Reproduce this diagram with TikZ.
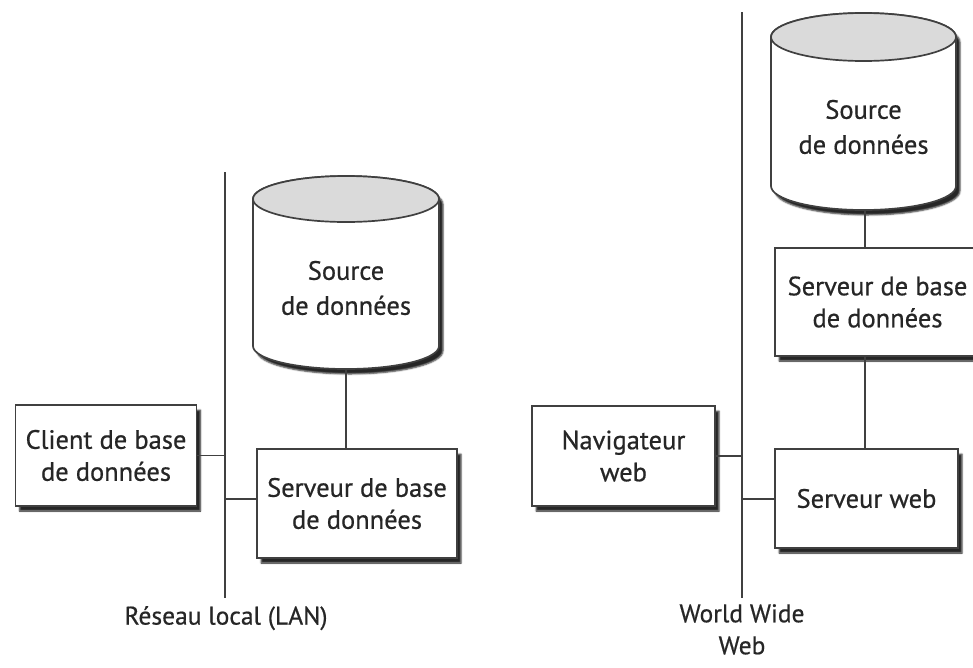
\documentclass[tikz,border=0pt]{standalone}
\usepackage{fontspec}
\setmainfont{PT Sans}[FakeBold=0.6]
\newfontfamily\dfont{PT Sans}[FakeBold=0.6,AutoFakeBold=0.6]
\usetikzlibrary{shadows.blur}
\definecolor{ln}{HTML}{404040}
\definecolor{tx}{HTML}{262626}
\definecolor{capfill}{HTML}{DADADA}
\tikzset{
  x=1pt,y=1pt,
  conn/.style={draw=ln,line width=1.7pt},
  boxshadow/.style={blur shadow={shadow xshift=4pt,shadow yshift=-5pt,shadow blur steps=4,shadow opacity=85,shadow blur radius=1.5pt}},
  databox/.style={draw=ln,line width=1.7pt,fill=white,rectangle,inner sep=0pt,align=center,text=tx,font=\dfont\bfseries\fontsize{26.5}{32}\selectfont,boxshadow},
  cyltext/.style={inner sep=0pt,align=center,text=tx,font=\dfont\bfseries\fontsize{26.5}{35}\selectfont},
  lbl/.style={inner sep=0pt,align=center,text=tx,font=\dfont\bfseries\fontsize{25.5}{32}\selectfont},
}
\begin{document}
\begin{tikzpicture}
\useasboundingbox (0,0) rectangle (973,-667);
% ---------- LAN side ----------
\coordinate (lanT) at (225,-172);
\coordinate (lanB) at (225,-598);
\draw[conn] (lanT) -- (lanB);
\node[lbl,anchor=north] (lanlbl) at (226,-606) {Réseau local (LAN)};

% cylinder 1
\path[fill=white,draw=ln,line width=1.7pt,boxshadow]
  (253,-199) -- (253,-346) arc[start angle=180,end angle=360,x radius=93,y radius=23]
  -- (439,-199) arc[start angle=0,end angle=180,x radius=93,y radius=23] -- cycle;
\draw[draw=ln,line width=1.7pt,fill=capfill] (346,-199) ellipse[x radius=93,y radius=23];
\node[cyltext,minimum width=186pt,minimum height=193pt] (src1) at (346,-272.5) {};
\node[cyltext] at (346,-288) {Source\\de données};

\node[databox,minimum width=181pt,minimum height=101pt] (client) at (106,-455.5) {Client de base\\de données};
\node[databox,minimum width=200pt,minimum height=109pt] (srv1) at (357,-503.5) {Serveur de base\\de données};

\draw[conn] (src1.south) -- (src1.south |- srv1.north);
\draw[conn] (client.east) -- (client.east -| lanT);
\draw[conn] (srv1.west |- 0,-499) -- (lanT |- 0,-499);

% ---------- WWW side ----------
\coordinate (wwwT) at (742,-12);
\coordinate (wwwB) at (742,-598);
\draw[conn] (wwwT) -- (wwwB);
\node[lbl,anchor=north] (wwwlbl) at (742,-604) {World Wide\\Web};

% cylinder 2
\path[fill=white,draw=ln,line width=1.7pt,boxshadow]
  (771,-37) -- (771,-186) arc[start angle=180,end angle=360,x radius=92.5,y radius=24]
  -- (956,-37) arc[start angle=0,end angle=180,x radius=92.5,y radius=24] -- cycle;
\draw[draw=ln,line width=1.7pt,fill=capfill] (863.5,-37) ellipse[x radius=92.5,y radius=24];
\node[cyltext,minimum width=185pt,minimum height=197pt] (src2) at (863.5,-111.5) {};
\node[cyltext] at (863.5,-127) {Source\\de données};

\node[databox,minimum width=205pt,minimum height=108pt] (srv2) at (877.5,-302) {Serveur de base\\de données};
\node[databox,minimum width=183pt,minimum height=100pt] (nav) at (623.5,-456) {Navigateur\\web};
\node[databox,minimum width=183pt,minimum height=99pt] (web) at (866.5,-498.5) {Serveur web};

\draw[conn] (865,-210) -- (865,-248);
\draw[conn] (srv2.south -| 865,0) -- (web.north -| 865,0);
\draw[conn] (nav.east) -- (nav.east -| wwwT);
\draw[conn] (web.west |- 0,-499) -- (wwwT |- 0,-499);
\end{tikzpicture}
\end{document}
